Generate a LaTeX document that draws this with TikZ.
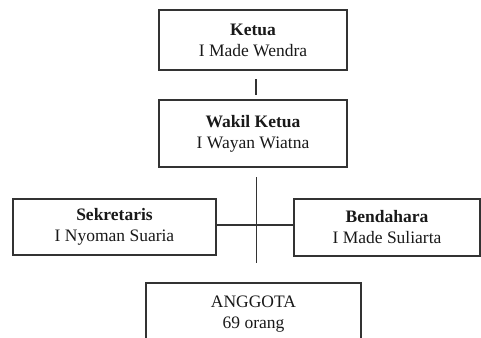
\documentclass[tikz,border=0pt]{standalone}
\usepackage{fontspec}
\setmainfont{Liberation Serif}
\begin{document}
\begin{tikzpicture}[x=1pt,y=-1pt,
  box/.style={draw=black!80, line width=1.2pt, rectangle, align=center, inner sep=0pt,
    font=\fontsize{17.5}{21}\selectfont, text=black!90},
  conn/.style={draw=black!80, line width=1.4pt}]
\useasboundingbox (0,0) rectangle (481,337);
\clip (0,0) rectangle (481,337);
\node[box, minimum width=188pt, minimum height=60pt] (ketua) at (253,40) {\textbf{Ketua}\\I Made Wendra};
\node[box, minimum width=188pt, minimum height=67pt] (wakil) at (253,133.5) {\textbf{Wakil Ketua}\\I Wayan Wiatna};
\node[box, minimum width=203pt, minimum height=56pt] (sek) at (114.5,227) {\textbf{Sekretaris}\\I Nyoman Suaria};
\node[box, minimum width=186pt, minimum height=57pt] (ben) at (387,227.5) {\textbf{Bendahara}\\I Made Suliarta};
\node[box, minimum width=215pt, minimum height=62pt] (ang) at (253.5,314) {ANGGOTA\\69 orang};
\coordinate (c1) at (256,79);
\coordinate (c2) at (256,95);
\coordinate (v1) at (256.5,177);
\coordinate (v2) at (256.5,263);
\draw[conn] (c1) -- (c2);
\draw[conn] (v1) -- (v2);
\draw[conn] ([yshift=2pt]sek.east) -- ([yshift=2.5pt]ben.west);
\end{tikzpicture}
\end{document}
